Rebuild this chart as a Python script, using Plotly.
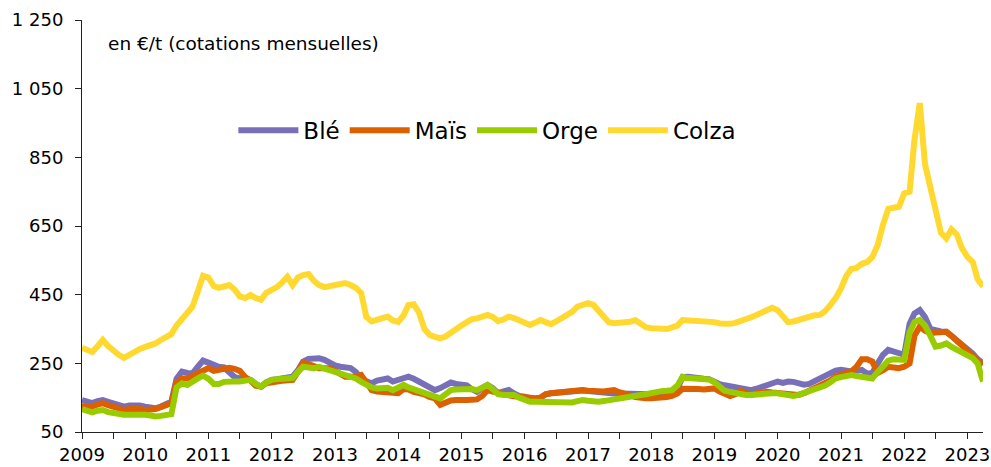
import plotly.graph_objects as go
import pandas as pd

# ---- data (monthly quotations, EUR/t), Jan 2009 .. Apr 2023 ----
months = pd.date_range("2009-01-01", "2023-04-01", freq="MS")

ble = [143, 136, 134, 140, 143, 138, 134, 128, 124, 127, 129, 127,
       124, 122, 119, 124, 129, 138, 205, 226, 222, 221, 240, 258,
       252, 245, 240, 238, 225, 210, 206, 204, 202, 190, 182, 195,
       202, 204, 206, 208, 211, 230, 255, 263, 265, 265, 260, 250,
       244, 240, 238, 236, 225, 206, 198, 192, 200, 204, 206, 197,
       203, 208, 211, 205, 197, 190, 180, 172, 178, 186, 194, 190,
       187, 186, 175, 167, 178, 187, 178, 163, 168, 172, 162, 155,
       153, 148, 145, 150, 160, 163, 165, 166, 168, 170, 172, 171,
       169, 167, 166, 164, 163, 162, 162, 161, 160, 160, 160, 161,
       160, 160, 162, 163, 166, 176, 210, 211, 208, 206, 205, 204,
       196, 189, 186, 184, 182, 180, 177, 172, 176, 182, 187, 192,
       197, 193, 197, 196, 193, 188, 190, 197, 205, 211, 220, 229,
       231, 228, 226, 228, 231, 220, 222, 250, 275, 289, 284, 279,
       275, 365, 395, 405, 385, 350, 345, 343, 342, 330, 315, 302,
       292, 278, 262, 250]

mais = [124, 122, 124, 130, 134, 128, 124, 118, 114, 117, 119, 117,
        114, 115, 117, 122, 129, 134, 195, 206, 206, 214, 221, 228,
        236, 228, 230, 236, 237, 234, 228, 210, 200, 185, 182, 192,
        196, 197, 199, 200, 202, 225, 252, 248, 240, 236, 236, 236,
        228, 218, 211, 211, 211, 216, 195, 172, 168, 166, 166, 165,
        163, 175, 174, 167, 165, 160, 152, 148, 129, 135, 142, 143,
        141, 143, 144, 145, 155, 172, 168, 163, 160, 157, 154, 152,
        150, 149, 148, 150, 160, 163, 165, 167, 169, 170, 171, 172,
        170, 168, 167, 168, 170, 172, 166, 163, 157, 152, 149, 148,
        148, 148, 150, 152, 155, 162, 176, 177, 176, 175, 174, 175,
        177, 168, 163, 155, 160, 170, 165, 158, 163, 167, 167, 165,
        163, 163, 161, 159, 158, 163, 170, 176, 182, 188, 200, 211,
        218, 222, 226, 240, 262, 262, 255, 222, 230, 240, 238, 236,
        240, 250, 330, 357, 345, 338, 340, 342, 342, 330, 315, 300,
        285, 275, 258, 245]

orge = [117, 110, 107, 112, 114, 108, 104, 102, 100, 100, 101, 100,
        100, 98, 95, 97, 100, 102, 180, 192, 187, 194, 206, 214,
        205, 190, 190, 196, 198, 197, 197, 198, 202, 190, 182, 194,
        202, 204, 206, 206, 207, 225, 240, 238, 236, 240, 235, 228,
        222, 216, 212, 208, 206, 196, 187, 180, 177, 180, 179, 172,
        178, 187, 180, 174, 170, 162, 155, 153, 148, 160, 172, 174,
        175, 177, 175, 172, 180, 187, 175, 160, 158, 158, 158, 150,
        142, 138, 138, 138, 138, 138, 136, 134, 134, 136, 140, 143,
        141, 139, 138, 140, 143, 147, 148, 150, 152, 155, 158, 160,
        164, 167, 169, 170, 172, 185, 211, 207, 205, 205, 204, 203,
        195, 180, 170, 167, 163, 160, 158, 158, 160, 163, 163, 163,
        163, 160, 157, 155, 158, 163, 167, 172, 177, 185, 195, 206,
        210, 214, 216, 213, 211, 208, 206, 225, 245, 258, 262, 261,
        260, 340, 370, 376, 360, 330, 299, 302, 308, 298, 290, 285,
        276, 265, 250, 197]

colza = [295, 288, 283, 300, 318, 300, 285, 275, 266, 275, 285, 292,
         298, 303, 308, 318, 328, 335, 360, 380, 396, 415, 460, 505,
         500, 475, 470, 476, 478, 465, 445, 440, 449, 440, 435, 455,
         462, 472, 485, 502, 478, 500, 507, 510, 490, 478, 472, 474,
         478, 480, 484, 478, 470, 455, 385, 372, 378, 382, 386, 375,
         371, 390, 420, 422, 398, 350, 333, 327, 323, 328, 340, 352,
         360, 370, 378, 381, 385, 391, 385, 373, 378, 386, 382, 375,
         368, 362, 368, 376, 370, 364, 372, 381, 390, 400, 415, 422,
         425, 420, 406, 388, 370, 367, 368, 370, 371, 376, 366, 355,
         352, 351, 350, 350, 355, 360, 376, 375, 376, 376, 374, 372,
         370, 366, 364, 365, 368, 372, 376, 384, 391, 398, 406, 412,
         405, 385, 370, 372, 376, 382, 388, 390, 391, 402, 420, 440,
         468, 505, 525, 528, 540, 545, 560, 595, 655, 700, 703, 706,
         745, 750, 900, 1008, 830, 760, 680, 630, 614, 640, 625, 585,
         560, 545, 495, 474]

series_names = ["Blé", "Maïs", "Orge", "Colza"]
series_colors = ["#7770B8", "#DD6000", "#99CC00", "#FFD930"]
series_values = [ble, mais, orge, colza]

years = list(range(2009, 2024))
y_ticks = [50, 250, 450, 650, 850, 1050, 1250]
unit_note = "en €/t (cotations mensuelles)"

# ticks every half year, labels on years
tick_vals = []
tick_text = []
for yr in years:
    tick_vals.append(f"{yr}-01-01")
    tick_text.append(str(yr))
    if yr < years[-1]:
        tick_vals.append(f"{yr}-07-01")
        tick_text.append("")

FONT = "DejaVu Sans, Verdana, sans-serif"

fig = go.Figure()
for name, vals, col in zip(series_names, series_values, series_colors):
    fig.add_trace(go.Scatter(
        x=months, y=vals, name=name, mode="lines",
        line=dict(color=col, width=6),
    ))

x_range = [months[0], months[-1]]

fig.update_layout(
    width=991, height=467,
    margin=dict(l=82, r=8, t=20, b=35, autoexpand=False),
    paper_bgcolor="white", plot_bgcolor="white",
    font=dict(family=FONT, size=18, color="#000000"),
    separators=", ",
    showlegend=True,
    legend=dict(
        orientation="h", x=0.168, xanchor="left", y=0.732, yanchor="middle",
        font=dict(size=23, family=FONT, color="#000000"),
        bgcolor="rgba(0,0,0,0)", itemwidth=60, tracegroupgap=0,
    ),
    xaxis=dict(
        type="date", range=x_range, automargin=False,
        tickmode="array", tickvals=tick_vals, ticktext=tick_text,
        ticks="outside", ticklen=6, tickcolor="#222222", tickwidth=1,
        showline=True, linecolor="#222222", linewidth=1,
        showgrid=False, zeroline=False,
        tickfont=dict(size=18, family=FONT, color="#000000"),
    ),
    xaxis2=dict(
        type="date", range=x_range, overlaying="x", anchor="y", automargin=False,
        tickmode="array", tickvals=tick_vals, ticktext=tick_text,
        ticks="inside", ticklen=6, tickcolor="#222222", tickwidth=1,
        showticklabels=False, showline=False, showgrid=False, zeroline=False,
    ),
    yaxis=dict(
        range=[50, 1250], tickmode="array", tickvals=y_ticks, automargin=False,
        tickformat=",d",
        ticks="outside", ticklen=6, tickcolor="#222222", tickwidth=1,
        showline=True, linecolor="#222222", linewidth=1,
        showgrid=False, zeroline=False,
        tickfont=dict(size=18, family=FONT, color="#000000"),
        ticklabelstandoff=8,
    ),
    annotations=[dict(
        text=unit_note, xref="paper", yref="paper",
        x=(106 - 82) / 901, y=(432 - 44) / 412,
        xanchor="left", yanchor="middle", showarrow=False,
        font=dict(size=18.5, family=FONT, color="#000000"),
    )],
)

fig.write_html(
    "out.html",
    config={"displayModeBar": False},
    post_script="document.body.style.margin='0';document.body.style.overflow='hidden';",
)
